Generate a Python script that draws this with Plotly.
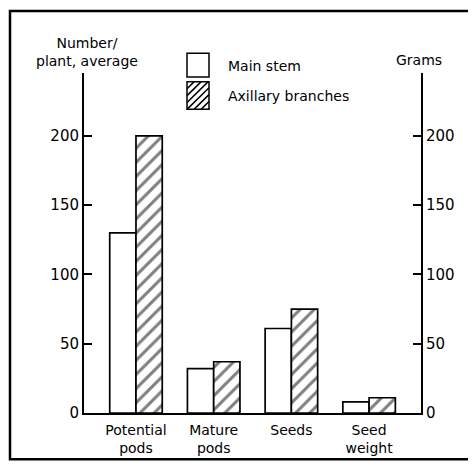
import plotly.graph_objects as go

# ---- data ----
categories = ["Potential<br>pods", "Mature<br>pods", "Seeds", "Seed<br>weight"]
main_stem = [130, 32, 61, 8]
axillary = [200, 37, 75, 11]
tick_vals = [0, 50, 100, 150, 200]
tick_text = ["0", "50", "100", "150", "200"]
series_names = ["Main stem", "Axillary branches"]

OFF = 8  # default page body margin
W, H = 476 - OFF, 468 - OFF
ML, MT = 84 - OFF, 73 - OFF
MR = W - (421 - OFF)
MB = H - (419 - OFF)
PW, PH = W - ML - MR, H - MT - MB
FONT = "DejaVu Sans"


def px(x):
    return (x - OFF - ML) / PW


def py(y):
    return (H - MB - (y - OFF)) / PH


fig = go.Figure()
fig.add_trace(go.Bar(
    x=categories, y=main_stem, name=series_names[0],
    marker=dict(color="white", line=dict(color="black", width=1.7)),
    showlegend=False, hoverinfo="x+y",
))
fig.add_trace(go.Bar(
    x=categories, y=axillary, name=series_names[1],
    marker=dict(color="white", line=dict(color="black", width=1.7),
                pattern=dict(shape="/", fgcolor="black", bgcolor="white",
                             size=10, solidity=0.3)),
    showlegend=False, hoverinfo="x+y",
))
# invisible trace to anchor the right-hand axis
fig.add_trace(go.Scatter(x=categories[:1], y=[0], yaxis="y2", mode="markers",
                         marker=dict(opacity=0), showlegend=False, hoverinfo="skip"))

yrange = [0, PH / 1.41]
axis_common = dict(range=yrange, tickvals=tick_vals, ticktext=tick_text,
                   ticks="inside", ticklen=8, tickwidth=1.5, tickcolor="black",
                   showline=True, linecolor="black", linewidth=2, showgrid=False,
                   zeroline=False, ticklabelstandoff=0,
                   tickfont=dict(family=FONT, size=15, color="black"))

shapes = []
# outer frame
shapes.append(dict(type="rect", xref="paper", yref="paper",
                   x0=px(10), x1=px(471), y0=py(10), y1=py(466),
                   line=dict(color="black", width=2.5), layer="below"))
# legend boxes
bx0, bx1 = 187, 209
shapes.append(dict(type="rect", xref="paper", yref="paper",
                   x0=px(bx0), x1=px(bx1), y0=py(53), y1=py(77),
                   line=dict(color="black", width=1.5), fillcolor="white"))
hy0, hy1 = 82, 110
shapes.append(dict(type="rect", xref="paper", yref="paper",
                   x0=px(bx0), x1=px(bx1), y0=py(hy0), y1=py(hy1),
                   line=dict(color="black", width=1.5), fillcolor="white"))
step = 7
path = ""
c = bx0 + hy0 + step
while c < bx1 + hy1:
    xa = max(bx0, c - hy1)
    xb = min(bx1, c - hy0)
    if xb > xa:
        path += f"M{px(xa):.5f},{py(c - xa):.5f}L{px(xb):.5f},{py(c - xb):.5f}"
    c += step
shapes.append(dict(type="path", xref="paper", yref="paper", path=path,
                   line=dict(color="black", width=1.5)))

annotations = [
    dict(text="Number/<br>plant, average", x=px(87), y=py(52), xref="paper", yref="paper",
         showarrow=False, xanchor="center", yanchor="middle",
         font=dict(family=FONT, size=14, color="black")),
    dict(text="Grams", x=px(419), y=py(60), xref="paper", yref="paper",
         showarrow=False, xanchor="center", yanchor="middle",
         font=dict(family=FONT, size=14, color="black")),
    dict(text=series_names[0], x=px(226), y=py(66), xref="paper", yref="paper",
         showarrow=False, xanchor="left", yanchor="middle",
         font=dict(family=FONT, size=14, color="black")),
    dict(text=series_names[1], x=px(226), y=py(96), xref="paper", yref="paper",
         showarrow=False, xanchor="left", yanchor="middle",
         font=dict(family=FONT, size=14, color="black")),
]

fig.update_layout(
    width=W, height=H,
    margin=dict(l=ML, r=MR, t=MT, b=MB, pad=0),
    paper_bgcolor="white", plot_bgcolor="white",
    barmode="group", bargap=0.324, bargroupgap=0,
    xaxis=dict(range=[-0.669, 3.668], showline=True, linecolor="black", linewidth=2,
               ticks="", showgrid=False, zeroline=False, ticklabelstandoff=3,
               tickfont=dict(family=FONT, size=14, color="black")),
    yaxis=dict(side="left", **axis_common),
    yaxis2=dict(side="right", overlaying="y", **axis_common),
    shapes=shapes, annotations=annotations,
    showlegend=False,
)

fig.write_html("out.html")
